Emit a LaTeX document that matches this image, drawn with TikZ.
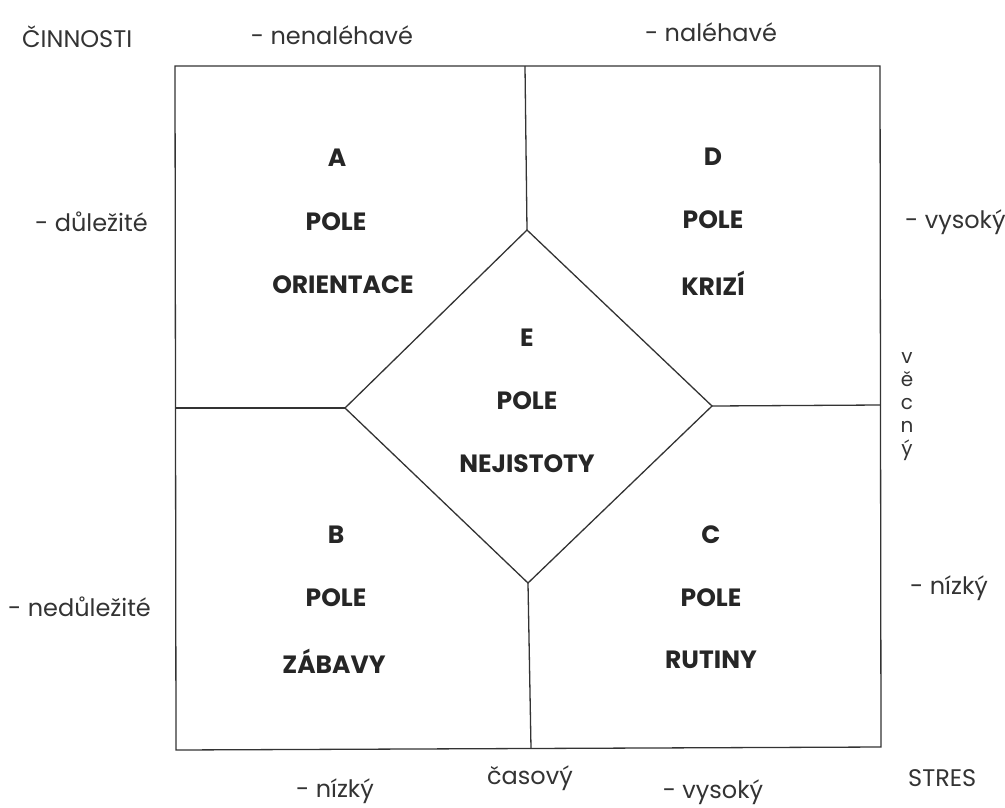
\documentclass[tikz,border=0pt]{standalone}
\usepackage{fontspec}
\setmainfont{Poppins}
\begin{document}
\begin{tikzpicture}[x=1pt,y=-1pt,
  ln/.style={draw=black!80,line width=1.3pt,line join=miter},
  lbl/.style={text=black!80,font=\fontsize{24}{28}\selectfont,inner sep=0pt},
  fld/.style={text=black!85,font=\fontsize{25}{28}\selectfont\bfseries,inner sep=0pt}]
\useasboundingbox (0,0) rectangle (1005,807);
% corners and junctions
\coordinate (TL) at (175,66);
\coordinate (TR) at (880,66);
\coordinate (BR) at (881,747);
\coordinate (BL) at (176,750);
\coordinate (Tm) at (525,66);
\coordinate (Bm) at (531,748);
\coordinate (Lm) at (175,408);
\coordinate (Rm) at (880,405);
\coordinate (dT) at (527,230);
\coordinate (dR) at (712,406);
\coordinate (dB) at (528,583);
\coordinate (dL) at (345,408);
\draw[ln] (TL) -- (TR) -- (BR) -- (BL) -- cycle;
\draw[ln] (dT) -- (dR) -- (dB) -- (dL) -- cycle;
\draw[ln] (Tm) -- (dT);
\draw[ln] (dB) -- (Bm);
\draw[ln] (Lm) -- (dL);
\draw[ln] (dR) -- (Rm);
% field labels
\node[fld] (a1) at (337,158) {A};
\node[fld] (a2) at (336,222) {POLE};
\node[fld] (a3) at (343,285) {ORIENTACE};
\node[fld] (d1) at (713,157) {D};
\node[fld] (d2) at (713,220) {POLE};
\node[fld] (d3) at (713,283) {KRIZÍ};
\node[fld] (e1) at (527,338) {E};
\node[fld] (e2) at (527,401) {POLE};
\node[fld] (e3) at (527,464) {NEJISTOTY};
\node[fld] (b1) at (336,535) {B};
\node[fld] (b2) at (336,598) {POLE};
\node[fld] (b3) at (334,661) {ZÁBAVY};
\node[fld] (c1) at (711,535) {C};
\node[fld] (c2) at (711,598) {POLE};
\node[fld] (c3) at (711,660) {RUTINY};
% axis labels
\node[lbl,anchor=west] (cin) at (22,37) {ČINNOSTI};
\node[lbl] (nen) at (332,35) {- nenaléhavé};
\node[lbl] (nal) at (711,32) {- naléhavé};
\node[lbl,anchor=west] (dul) at (35,222) {- důležité};
\node[lbl,anchor=west] (vys1) at (905,222) {- vysoký};
\node[lbl,anchor=west] (ned) at (8,607) {- nedůležité};
\node[lbl,anchor=west] (niz1) at (910,588) {- nízký};
\node[lbl] (niz2) at (335,791) {- nízký};
\node[lbl] (cas) at (530,778) {časový};
\node[lbl] (vys2) at (713,792) {- vysoký};
\node[lbl,anchor=west] (str) at (908,778) {STRES};
\node[lbl,align=center,font=\fontsize{20}{23}\selectfont] (vec) at (907,407) {v\\ě\\c\\n\\ý};
\end{tikzpicture}
\end{document}
